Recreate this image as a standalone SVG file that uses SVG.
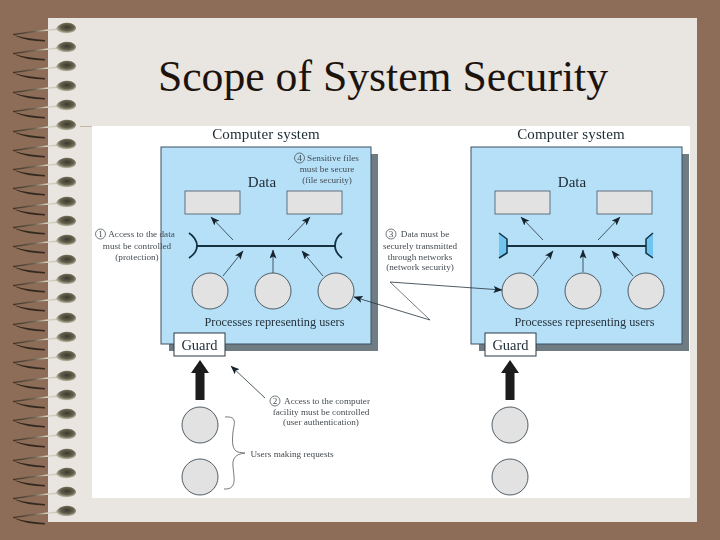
<svg xmlns="http://www.w3.org/2000/svg" width="720" height="540" viewBox="0 0 720 540">
<style>
text{font-family:"Liberation Serif","Times New Roman",serif;fill:#1c2a33}
.t{font-size:15px;letter-spacing:.15px}
.p{font-size:12.300px;fill:#26343d;text-anchor:middle}
.d{font-size:15px;text-anchor:middle}
.s{font-size:9.200px;fill:#454c52;text-anchor:middle}
.m{text-anchor:middle}
.sys{fill:#b5e0f8;stroke:#3c5060;stroke-width:1}
.shadow{fill:#6f7b83}
.rect{fill:#e2e2e2;stroke:#4a5560;stroke-width:.8}
.circ{fill:#e2e2e2;stroke:#2c3a44;stroke-width:.8}
.guard{fill:#fff;stroke:#2c3a44;stroke-width:1}
.bus{fill:none;stroke:#12303f;stroke-width:2}
.bar{fill:none;stroke:#12303f;stroke-width:1.800}
.a{fill:none;stroke:#24343e;stroke-width:.8;marker-end:url(#ah)}
.l{fill:none;stroke:#3a4248;stroke-width:.7}
.num{fill:none;stroke:#3a4248;stroke-width:.7}
</style>
<defs>
<marker id="ah" markerUnits="userSpaceOnUse" markerWidth="10" markerHeight="8" refX="8.500" refY="3.500" orient="auto"><path d="M0 0L9 3.500L0 7L2 3.500Z" fill="#14242e"/></marker>
<radialGradient id="bead" cx=".55" cy=".42" r=".62"><stop offset="0" stop-color="#3a382e"/><stop offset=".55" stop-color="#66624e"/><stop offset="1" stop-color="#d2d0ba"/></radialGradient>
<linearGradient id="strand" gradientUnits="userSpaceOnUse" x1="13" y1="0" x2="60" y2="0"><stop offset="0" stop-color="#3d3226"/><stop offset=".45" stop-color="#6a604e"/><stop offset=".72" stop-color="#d8d5c6"/><stop offset="1" stop-color="#c4c2b0"/></linearGradient>
<g id="spring">
<path d="M60 1C48 2 36 3 27 4.500C21 5.500 16 6 13 6.500" fill="none" stroke="url(#strand)" stroke-width="1.300"/>
<path d="M14 7C24 10 34 11 45 12L45 13.500C33 13 23 12 14 7Z" fill="#33291f"/>
<path d="M56 1C58 -4 64 -5.500 68 -5.200C73 -5 76 -2 76 0C76 3 72 5 67 5.200C62 5.300 58 4 56 1Z" fill="url(#bead)"/>
</g>
<filter id="soft" x="-5%" y="-5%" width="110%" height="110%"><feGaussianBlur stdDeviation=".35"/></filter>
</defs>
<rect width="720" height="540" fill="#8d6c58"/>
<rect x="48" y="18" width="649" height="504" fill="#e9e5e1"/>
<rect x="92" y="126" width="598" height="372" fill="#fff"/>
<path d="M80 126.500H92" stroke="#c4b8a0" stroke-width="1"/>
<g id="springs">
<use href="#spring" y="28"/><use href="#spring" y="47"/><use href="#spring" y="66"/><use href="#spring" y="86"/><use href="#spring" y="105"/><use href="#spring" y="125"/><use href="#spring" y="144"/><use href="#spring" y="163"/><use href="#spring" y="182"/><use href="#spring" y="202"/><use href="#spring" y="221"/><use href="#spring" y="240"/><use href="#spring" y="260"/><use href="#spring" y="279"/><use href="#spring" y="298"/><use href="#spring" y="318"/><use href="#spring" y="337"/><use href="#spring" y="356"/><use href="#spring" y="376"/><use href="#spring" y="395"/><use href="#spring" y="414"/><use href="#spring" y="434"/><use href="#spring" y="454"/><use href="#spring" y="473"/><use href="#spring" y="492"/><use href="#spring" y="511"/>
</g>
<text id="title" x="383" y="91" font-size="43.700" text-anchor="middle" style="fill:#1d130d">Scope of System Security</text>
<g filter="url(#soft)">
<g id="system-left">
<rect class="shadow" x="169" y="154" width="209" height="197"/>
<rect class="sys" x="161" y="147" width="210" height="197"/>
<text class="t m" x="266" y="139">Computer system</text>
<text class="d" x="262" y="187">Data</text>
<text class="p" x="274.500" y="326">Processes representing users</text>
</g>
<g id="system-right">
<rect class="shadow" x="479" y="154" width="210" height="197"/>
<rect class="sys" x="471" y="147" width="211" height="197"/>
<text class="t m" x="571" y="139">Computer system</text>
<text class="d" x="572" y="187">Data</text>
<text class="p" x="584.500" y="326">Processes representing users</text>
</g>
<g id="data-left-1"><rect class="rect" x="185" y="191" width="55" height="23"/></g>
<g id="data-left-2"><rect class="rect" x="287" y="191" width="55" height="23"/></g>
<g id="data-right-1"><rect class="rect" x="495" y="191" width="55" height="23"/></g>
<g id="data-right-2"><rect class="rect" x="597" y="191" width="55" height="23"/></g>
<g id="proc-left-1"><circle class="circ" cx="210" cy="291" r="18"/></g>
<g id="proc-left-2"><circle class="circ" cx="273" cy="291" r="18"/></g>
<g id="proc-left-3"><circle class="circ" cx="336" cy="291" r="18"/></g>
<g id="proc-right-1"><circle class="circ" cx="520" cy="291" r="18"/></g>
<g id="proc-right-2"><circle class="circ" cx="583" cy="291" r="18"/></g>
<g id="proc-right-3"><circle class="circ" cx="646" cy="291" r="18"/></g>
<g id="user-left-1"><circle class="circ" cx="200" cy="425" r="18"/></g>
<g id="user-left-2"><circle class="circ" cx="200" cy="477" r="18"/></g>
<g id="user-right-1"><circle class="circ" cx="510" cy="425" r="18"/></g>
<g id="user-right-2"><circle class="circ" cx="510" cy="477" r="18"/></g>
<g id="guard-left"><rect class="guard" x="174" y="333" width="51" height="23"/><text x="199.500" y="350" class="m" font-size="14.500">Guard</text></g>
<g id="guard-right"><rect class="guard" x="485" y="333" width="51" height="23"/><text x="510.500" y="350" class="m" font-size="14.500">Guard</text></g>
<g id="connectors">
<path d="M197 246H335" class="bus"/>
<path d="M189 233C195 237 197 241 197 246C197 251 195 254 189 258M342 233C336 237 335 241 335 246C335 251 337 254 342 258" class="bar"/>
<path d="M507 246H646" class="bus"/>
<path d="M499 233L507 239V253L499 258" fill="#6fc4f0" stroke="#12303f" stroke-width="1.500"/>
<path d="M653 233L646 239V253L653 258" fill="#6fc4f0" stroke="#12303f" stroke-width="1.500"/>
<path class="a" d="M233 240L211 217"/><path class="a" d="M288 240L310 217"/>
<path class="a" d="M223 276L243 251"/><path class="a" d="M273 273V250"/><path class="a" d="M323 276L302 251"/>
<path class="a" d="M543 240L521 217"/><path class="a" d="M598 240L620 217"/>
<path class="a" d="M533 276L553 251"/><path class="a" d="M583 272V250"/><path class="a" d="M633 276L612 251"/>
<path class="l" d="M430 320L390 282"/>
<path class="a" d="M430 320L354 297"/>
<path class="a" d="M390 282L502 290"/>
<path class="a" d="M265 398L231 366"/>
<path d="M195.500 400V373H191L200 360L209 373H204.500V400Z" fill="#1a1a1a"/>
<path d="M505.500 400V373H501L510 360L519 373H514.500V400Z" fill="#1a1a1a"/>
<path class="l" d="M225 417C238 416 234 424 233 432C232 442 232 450 238 452C243 453 245 453 245 453M245 453C238 454 234 456 233 462C232 472 240 490 224 489"/>
</g>
<g id="labels">
<circle class="num" cx="100.500" cy="234" r="5"/><text class="s" x="100.500" y="237">1</text>
<text class="s" x="141.500" y="237">Access to the data</text>
<text class="s" x="137" y="249">must be controlled</text>
<text class="s" x="137" y="260">(protection)</text>
<circle class="num" cx="299.500" cy="158" r="5"/><text class="s" x="299.500" y="161">4</text>
<text class="s" x="333" y="161">Sensitive files</text>
<text class="s" x="327" y="172">must be secure</text>
<text class="s" x="327" y="183">(file security)</text>
<circle class="num" cx="391" cy="234" r="5"/><text class="s" x="391" y="237">3</text>
<text class="s" x="425" y="237">Data must be</text>
<text class="s" x="420" y="249">securely transmitted</text>
<text class="s" x="420" y="260">through networks</text>
<text class="s" x="420" y="270">(network security)</text>
<circle class="num" cx="275" cy="401" r="5"/><text class="s" x="275" y="404">2</text>
<text class="s" x="327" y="404">Access to the computer</text>
<text class="s" x="321" y="415">facility must be controlled</text>
<text class="s" x="321" y="425">(user authentication)</text>
<text class="s" x="292" y="457">Users making requests</text>
</g>
</g>
</svg>
